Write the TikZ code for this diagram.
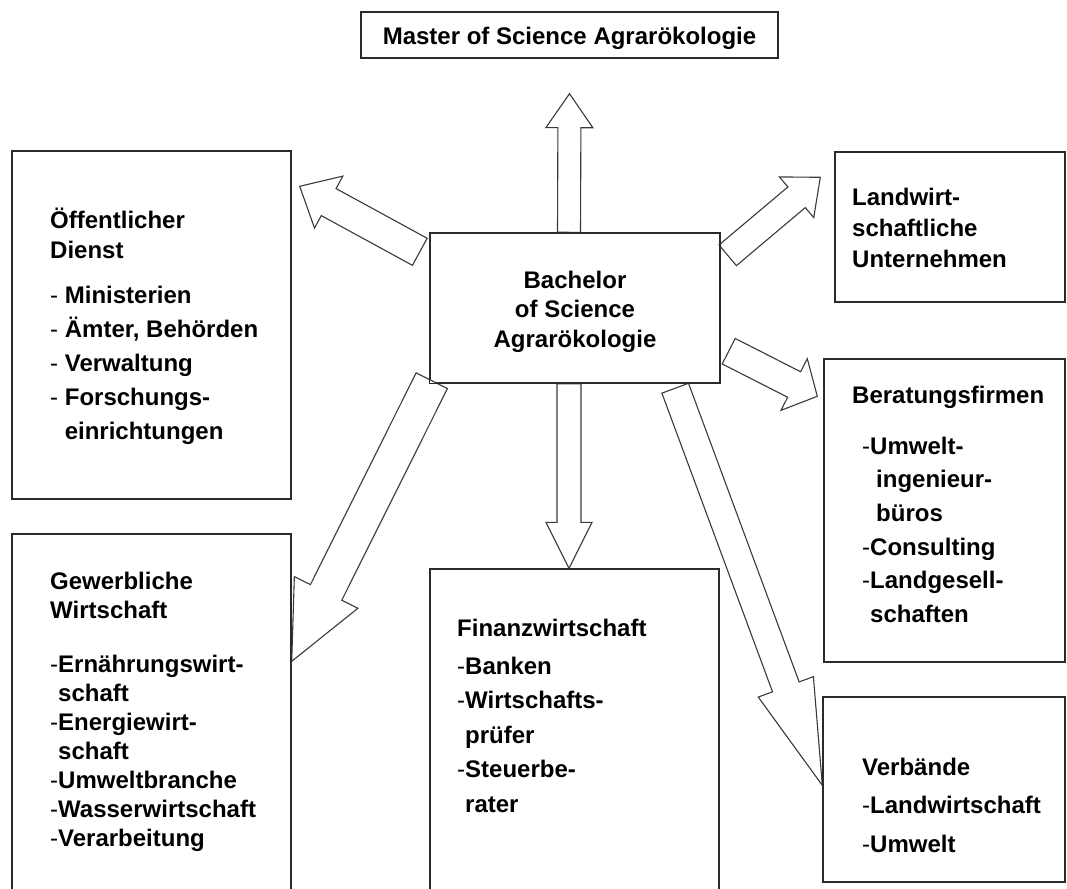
\documentclass[tikz,border=0pt]{standalone}
\usepackage{fontspec}
\setmainfont{Liberation Sans}
\usetikzlibrary{calc}

\definecolor{boxline}{HTML}{2A2A2A}
\definecolor{arrline}{HTML}{3A3A3A}

\tikzset{
  box/.style={draw=boxline, line width=1.4pt, inner sep=0pt, rectangle},
  arrowline/.style={draw=arrline, line width=1.1pt, fill=white, line join=miter},
  txt/.style={inner sep=0pt, anchor=north west, align=left},
  heading/.style={font=\bfseries\fontsize{24}{#1}\selectfont},
}

% outlined block arrow: tail, tip, shaft half-width, head half-width, head length
\newcommand\blockarrow[5]{%
  \coordinate (ba-hb) at ($(#2)!#5!(#1)$);
  \draw[arrowline]
    ($(#1)!#3!90:(#2)$) -- ($(ba-hb)!#3!-90:(#1)$) -- ($(ba-hb)!#4!-90:(#1)$)
    -- (#2)
    -- ($(ba-hb)!#4!90:(#1)$) -- ($(ba-hb)!#3!90:(#1)$) -- ($(#1)!#3!-90:(#2)$) -- cycle;
}
\newcommand\dash{{\mdseries -}}
\newcommand\firstline{\rule{0pt}{22pt}}

\begin{document}
\begin{tikzpicture}[x=1pt, y=-1pt]
\useasboundingbox (0,0) rectangle (1067,888);
\fill[white] (0,0) rectangle (1067,888);
\clip (0,0) rectangle (1067,888);

% boxes (frames only, text placed separately)
\node[box, minimum width=417pt, minimum height=46pt]  (master) at (569.5,35) {};
\node[box, minimum width=279pt, minimum height=348pt] (oed)    at (151.5,325) {};
\node[box, minimum width=290pt, minimum height=150pt] (bach)   at (575,308) {};
\node[box, minimum width=230pt, minimum height=150pt] (lw)     at (950,227) {};
\node[box, minimum width=241pt, minimum height=303pt] (ber)    at (944.5,510.5) {};
\node[box, minimum width=242pt, minimum height=185pt] (verb)   at (944,789.5) {};
\node[box, minimum width=279pt, minimum height=361pt] (gew)    at (151.5,714.5) {};
\node[box, minimum width=289pt, minimum height=326pt] (fin)    at (574.5,732) {};

% arrow ends
\coordinate (up-tail)   at ($(bach.north)+(-6,0)$);
\coordinate (up-tip)    at ($(master.south)+(0,35)$);
\coordinate (down-tail) at ($(bach.south)+(-6,0)$);
\coordinate (down-tip)  at ($(fin.north)+(-5.5,0)$);
\coordinate (oed-tail)  at ($(bach.north west)+(-9.5,19.5)$);
\coordinate (oed-tip)   at ($(oed.north east)+(8,36)$);
\coordinate (lw-tail)   at ($(bach.north east)+(7,23)$);
\coordinate (lw-tip)    at ($(lw.north west)+(-14,26)$);
\coordinate (ber-tail)  at ($(bach.south east)+(8,-32.5)$);
\coordinate (ber-tip)   at ($(ber.north west)+(-6,38)$);
\coordinate (verb-tail) at ($(bach.south east)+(-45.5,4.5)$);
\coordinate (verb-tip)  at ($(verb.north west)+(0,89)$);
\coordinate (gew-tail)  at ($(bach.south west)+(2.5,-3)$);
\coordinate (gew-tip)   at ($(gew.north east)+(0,128)$);

\blockarrow{up-tail}{up-tip}{11.5pt}{23.5pt}{34pt}
\blockarrow{down-tail}{down-tip}{12pt}{23pt}{46pt}
\blockarrow{oed-tail}{oed-tip}{15.4pt}{29.6pt}{33pt}
\blockarrow{lw-tail}{lw-tip}{13.5pt}{26.6pt}{31pt}
\blockarrow{ber-tail}{ber-tip}{14.3pt}{29pt}{26pt}
\blockarrow{verb-tail}{verb-tip}{14.2pt}{29.4pt}{105pt}
\blockarrow{gew-tail}{gew-tip}{17.5pt}{35.5pt}{77pt}

% redraw frames over arrow tails
\foreach \b in {master,oed,bach,lw,ber,verb,gew,fin}
  \draw[boxline, line width=1.4pt] (\b.north west) rectangle (\b.south east);

% texts
\node[heading=30, anchor=base, inner sep=0pt] (master-text) at (569.5,45)
  {Master of Science Agrarökologie};

\node[txt, heading=34] (oed-text) at (50,206)
  {\firstline Öffentlicher\\[-4pt]
   Dienst\\[11pt]
   \dash\ Ministerien\\
   \dash\ Ämter, Behörden\\
   \dash\ Verwaltung\\
   \dash\ Forschungs-\\
   \hspace*{14.6pt}einrichtungen};

\node[txt, heading=29.5, anchor=north, align=center] (bach-text) at (575,266)
  {\firstline Bachelor\\ of Science\\ Agrarökologie};

\node[txt, heading=31] (lw-text) at (852,183)
  {\firstline Landwirt-\\ schaftliche\\ Unternehmen};

\node[txt, heading=33.6] (ber-text) at (852,381)
  {\firstline Beratungsfirmen\\[17.4pt]
   \hspace*{10pt}\dash Umwelt-\\
   \hspace*{24pt}ingenieur-\\
   \hspace*{24pt}büros\\
   \hspace*{10pt}\dash Consulting\\
   \hspace*{10pt}\dash Landgesell-\\
   \hspace*{18pt}schaften};

\node[txt, heading=29] (gew-text) at (50,567)
  {\firstline Gewerbliche\\
   Wirtschaft\\[25pt]
   \dash Ernährungswirt-\\
   \hspace*{8pt}schaft\\
   \dash Energiewirt-\\
   \hspace*{8pt}schaft\\
   \dash Umweltbranche\\
   \dash Wasserwirtschaft\\
   \dash Verarbeitung};

\node[txt, heading=34.5] (fin-text) at (457,614)
  {\firstline Finanzwirtschaft\\[3.5pt]
   \dash Banken\\
   \dash Wirtschafts-\\
   \hspace*{8pt}prüfer\\
   \dash Steuerbe-\\
   \hspace*{8pt}rater};

\node[txt, heading=38.5] (verb-text) at (862,753)
  {\firstline Verbände\\
   \dash Landwirtschaft\\
   \dash Umwelt};
\end{tikzpicture}
\end{document}
